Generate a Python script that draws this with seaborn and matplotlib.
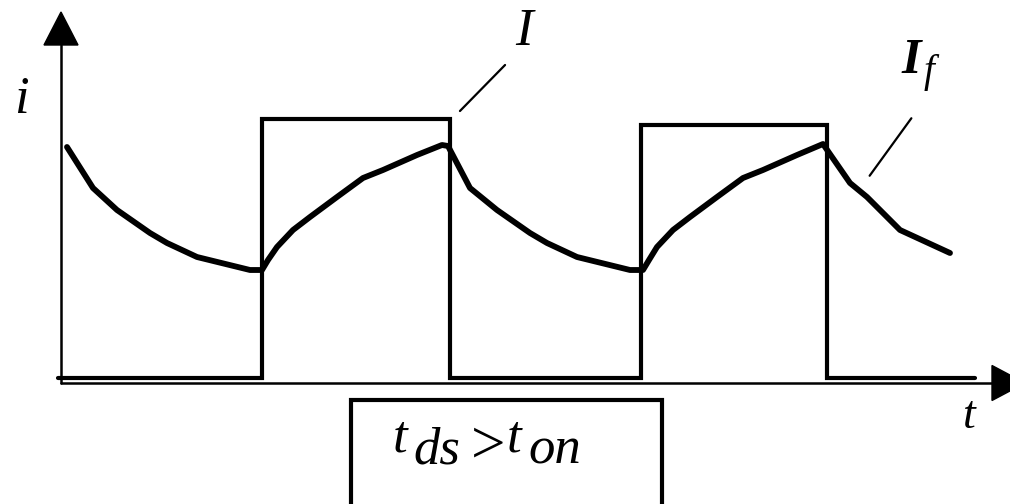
import pandas as pd
import matplotlib.pyplot as plt
from matplotlib.patches import Polygon, Rectangle
import seaborn as sns

# values (t and i in arbitrary units, origin at the axes corner)
pulse_t = [-0.3, 20.1, 20.1, 38.9, 38.9, 58.0, 58.0, 76.6, 76.6, 91.4]
pulse_i = [0.5, 0.5, 26.4, 26.4, 0.5, 0.5, 25.8, 25.8, 0.5, 0.5]

load_t = [0.6, 3.2, 5.6, 8.9, 10.6, 13.6, 18.9, 20.1,
          20.7, 21.6, 23.2, 24.9, 27.6, 30.2, 32.2, 35.6, 38.1, 38.7,
          40.9, 43.6, 46.9, 48.6, 51.6, 56.9, 58.2,
          58.8, 59.6, 61.2, 62.9, 65.6, 68.2, 70.2, 73.6, 76.2,
          78.9, 80.6, 83.9, 88.9]
load_i = [23.6, 19.5, 17.3, 15.0, 14.0, 12.6, 11.3, 11.3,
          12.3, 13.6, 15.3, 16.6, 18.6, 20.5, 21.3, 22.8, 23.8, 23.7,
          19.5, 17.3, 15.0, 14.0, 12.6, 11.3, 11.3,
          12.3, 13.6, 15.3, 16.6, 18.6, 20.5, 21.3, 22.8, 23.9,
          20.0, 18.6, 15.3, 13.0]

df_pulse = pd.DataFrame({'t': pulse_t, 'i': pulse_i})
df_load = pd.DataFrame({'t': load_t, 'i': load_i})

sns.set_theme(style='white')
plt.rcParams['font.family'] = ['Liberation Serif', 'DejaVu Serif']

fig = plt.figure(figsize=(10.1, 5.04), dpi=100)
ax = fig.add_axes([0, 0, 1, 1])

sns.lineplot(data=df_pulse, x='t', y='i', sort=False, estimator=None, color='black',
             lw=3.0, ax=ax, solid_joinstyle='miter')
sns.lineplot(data=df_load, x='t', y='i', sort=False, estimator=None, color='black',
             lw=4.2, ax=ax, solid_capstyle='round', solid_joinstyle='round')

ax.set_xlim(-6.1, 94.9)
ax.set_ylim(-12.1, 38.3)
ax.set_axis_off()

# coordinate axes with arrow heads
ax.plot([0, 0], [0, 33.8], color='black', lw=1.8)
ax.plot([0, 93.1], [0, 0], color='black', lw=1.8)
ax.add_patch(Polygon([[-1.7, 33.8], [1.7, 33.8], [0, 37.1]], closed=True, color='black'))
ax.add_patch(Polygon([[93.1, 1.75], [93.1, -1.75], [96.4, 0]], closed=True, color='black',
                     clip_on=False))

txt = dict(color='black', style='italic', va='baseline')
ax.text(-4.0, 27.0, 'i', fontsize=38, ha='center', **txt)
ax.text(90.8, -4.5, 't', fontsize=33, ha='center', **txt)

# leader lines to labels
ax.annotate('', xy=(39.7, 27.0), xytext=(44.6, 32.0),
            arrowprops=dict(arrowstyle='-', color='black', lw=1.6))
ax.text(46.3, 33.8, 'I', fontsize=38, ha='center', **txt)

ax.annotate('', xy=(80.7, 20.5), xytext=(85.2, 26.7),
            arrowprops=dict(arrowstyle='-', color='black', lw=1.6))
ax.text(85.0, 31.0, 'I', fontsize=36, ha='center', fontweight='bold', **txt)
ax.text(86.3, 30.1, 'f', fontsize=28, ha='left', **txt)

# condition box
ax.add_patch(Rectangle((29.0, -12.3), 31.1, 10.6, fill=False, ec='black', lw=3.0,
                       clip_on=False))
ax.text(33.2, -6.9, 't', fontsize=38, ha='left', **txt)
ax.text(35.2, -8.0, 'ds', fontsize=38, ha='left', **txt)
ax.text(41.0, -8.0, '>', fontsize=44, ha='left', color='black', va='baseline')
ax.text(44.6, -6.9, 't', fontsize=38, ha='left', **txt)
ax.text(46.7, -8.0, 'on', fontsize=38, ha='left', **txt)

fig.savefig('out.png', dpi=100, facecolor='white')
